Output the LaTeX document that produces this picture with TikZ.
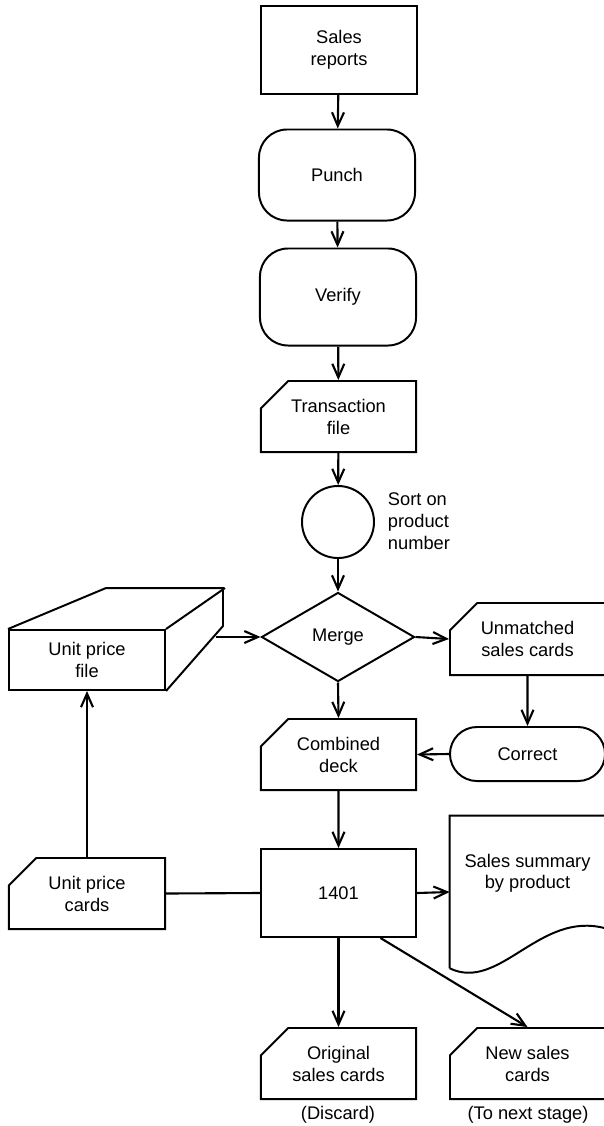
\documentclass[tikz,border=0pt]{standalone}
\usepackage{fontspec}
\setmainfont{Liberation Sans}
\usetikzlibrary{shapes.geometric, shapes.misc, arrows.meta, calc}
\tikzset{
    txt/.style={font=\fontsize{13}{15.6}\selectfont, align=center},
    block/.style={txt, draw, rectangle, line width=1.4pt, minimum width=3.875cm, minimum height=2.2cm},
    term/.style={txt, draw, rectangle, rounded corners=0.7cm, line width=1.4pt, minimum width=3.9cm, minimum height=2.3cm},
    card/.style={txt, draw, chamfered rectangle, chamfered rectangle corners=north west,
        chamfered rectangle xsep=0.28cm, chamfered rectangle ysep=0.4cm, inner ysep=0pt,
        line width=1.4pt, minimum width=3.875cm, minimum height=1.775cm},
    sortop/.style={draw, circle, line width=1.4pt, minimum size=1.8cm},
    decide/.style={txt, draw, diamond, line width=1.4pt, minimum width=3.825cm, minimum height=2.225cm, inner sep=0pt},
    outline/.style={line width=1.4pt},
    arr/.style={-{Straight Barb[length=3.4mm, width=3mm]}, line width=1.5pt},
    link/.style={line width=1.5pt}
}

\begin{document}
\begin{tikzpicture}[x=0.025cm, y=-0.025cm]
        \useasboundingbox (0,0) rectangle (604,1126);

        % Input documents and keypunch steps
        \node [block] (reports) at (339,50) {Sales\\reports};
        \node [term, minimum height=2.275cm] (punch) at (337,175) {Punch};
        \node [term, minimum height=2.425cm] (verify) at (338,297) {Verify};
        \node [card] (trans) at (338.5,416.5) {Transaction\\file};

        % Sort and merge
        \node [sortop] (sort) at (338,522) {};
        \node [txt, align=left, anchor=west] (sortlbl) at (383,521) {Sort on\\product\\number};
        \node [decide] (merge) at (338,637) {Merge};

        % Unit price file (drawn as a box)
        \node [block, minimum width=3.9cm, minimum height=1.5cm] (upfile) at (87,660) {Unit price\\file};
        \draw [outline] (upfile.north west) -- ++(98,-41) -- ++(117,0) -- ++(0,38) -- (upfile.south east);
        \draw [outline] (upfile.north east) -- ++(59,-41);
        \coordinate (upside) at ($(upfile.east)+(50,-23)$);

        % Unmatched cards and correction
        \node [card, minimum height=1.8cm] (unmatched) at (527.5,639) {Unmatched\\sales cards};
        \node [term, rounded corners=0.675cm, minimum height=1.35cm, minimum width=3.875cm] (correct) at (527.5,754) {Correct};
        \node [card] (combined) at (338.5,754.5) {Combined\\deck};

        % The 1401 run
        \node [card, minimum width=3.9cm] (upcards) at (87,893.5) {Unit price\\cards};
        \node [block] (c1401) at (338.5,893) {1401};
        \node [txt, minimum width=3.875cm, minimum height=3.8cm, text depth=1.03cm] (summary) at (527.5,892) {Sales summary\\by product};
        \draw [outline] (summary.south west) -- (summary.north west) -- (summary.north east)
            -- ($(summary.south east)+(0,-40)$)
            .. controls ($(summary.south)+(12,-58)$) and ($(summary.south west)+(50,24)$) .. (summary.south west);

        % Output cards
        \node [card] (original) at (338.5,1063.5) {Original\\sales cards};
        \node [card] (newcards) at (527.5,1063.5) {New sales\\cards};
        \node [txt] (discard) at (338,1115) {(Discard)};
        \node [txt] (nextstage) at (528,1115) {(To next stage)};

        % Arrows
        \draw [arr] (reports) -- (punch);
        \draw [arr] (punch) -- (verify);
        \draw [arr] (verify) -- (trans);
        \draw [arr] (trans) -- (sort);
        \draw [arr] (sort) -- (merge);
        \draw [arr] (upside) -- (merge.west);
        \draw [arr] (merge.east) -- (unmatched.west);
        \draw [arr] (merge.south) -- (combined.north);
        \draw [arr] (unmatched) -- (correct);
        \draw [arr] (correct.west) -- (combined.east);
        \draw [arr] (combined) -- (c1401);
        \draw [arr] (upcards.north) -- (upfile.south);
        \draw [link] (upcards.east) -- (c1401.west);
        \draw [arr] (c1401.east) -- (summary.west);
        \draw [arr] (c1401.south) -- (original.north);
        \draw [arr] ($(c1401.south)+(42,0)$) -- (newcards.north);
    \end{tikzpicture}
\end{document}
